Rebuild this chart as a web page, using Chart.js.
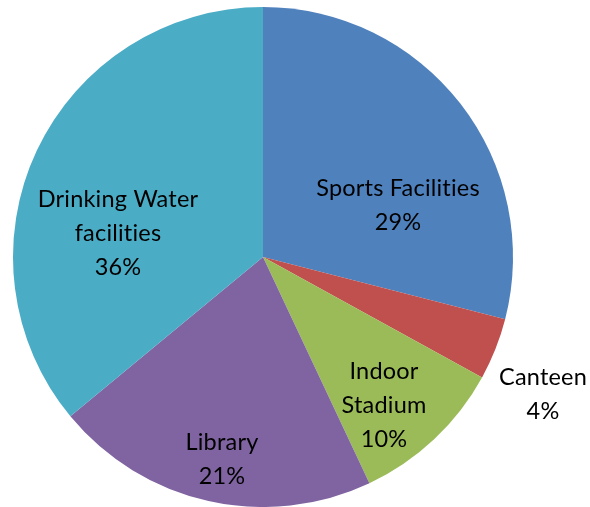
<!DOCTYPE html>
<html><head><meta charset="utf-8">
<script src="https://cdn.jsdelivr.net/npm/chart.js@4"></script>
<style>html,body{margin:0;padding:0;background:#fff;}#wrap{width:590px;height:507px;}</style>
</head><body><div id="wrap"><canvas id="c" width="590" height="507"></canvas></div>
<script>
const categories = ["Sports Facilities", "Canteen", "Indoor Stadium", "Library", "Drinking Water facilities"];
const values = [29, 4, 10, 21, 36];
const colors = ["#4F81BD", "#C0504D", "#9BBB59", "#8064A2", "#4BACC6"];
// label text lines and offsets from the pie centre
const labelLines = [["Sports Facilities"], ["Canteen"], ["Indoor", "Stadium"], ["Library"], ["Drinking Water", "facilities"]];
const labelOffsets = [[135, -52], [280, 137], [121, 148], [-41, 202], [-145, -24]];

const labelPlugin = {
  id: 'pieLabels',
  afterDatasetsDraw(chart) {
    const ctx = chart.ctx;
    const meta = chart.getDatasetMeta(0);
    const total = values.reduce((a, b) => a + b, 0);
    ctx.save();
    ctx.fillStyle = '#000';
    ctx.font = '23.5px Lato';
    if ('letterSpacing' in ctx) ctx.letterSpacing = '0.2px';
    ctx.textAlign = 'center';
    ctx.textBaseline = 'middle';
    const lh = 34;
    meta.data.forEach((arc, i) => {
      const lines = labelLines[i].concat([Math.round(values[i] / total * 100) + '%']);
      const cx = arc.x + labelOffsets[i][0];
      const cy = arc.y + labelOffsets[i][1];
      const y0 = cy - (lines.length - 1) * lh / 2;
      lines.forEach((t, k) => ctx.fillText(t, cx, y0 + k * lh));
    });
    ctx.restore();
  }
};

new Chart(document.getElementById('c'), {
  type: 'pie',
  data: { labels: categories, datasets: [{ data: values, backgroundColor: colors, borderWidth: 0 }] },
  options: {
    responsive: false, animation: false,
    layout: { padding: { left: 13, right: 77, top: 7, bottom: 0 } },
    plugins: { legend: { display: false }, tooltip: { enabled: false } }
  },
  plugins: [labelPlugin]
});
</script></body></html>
